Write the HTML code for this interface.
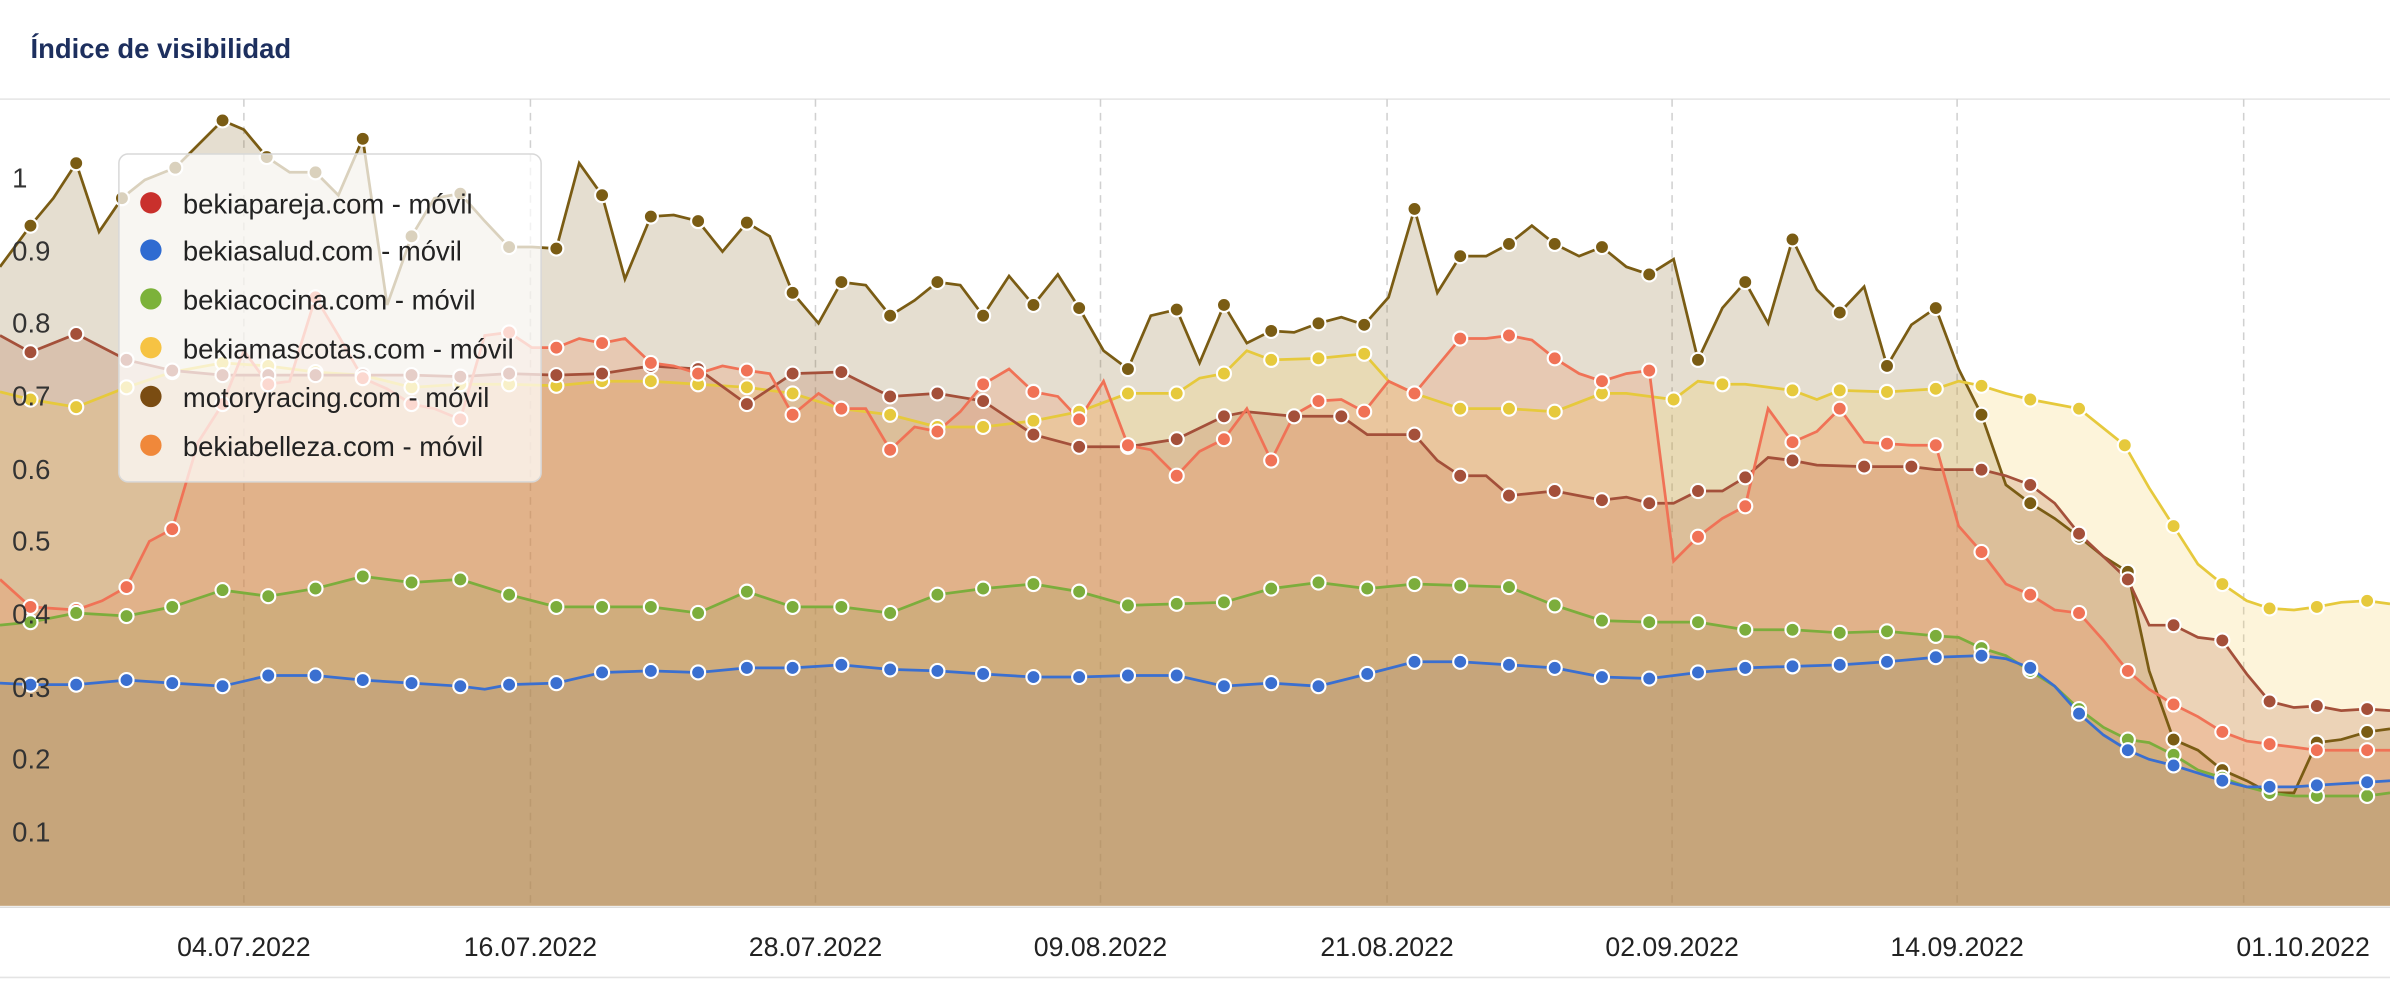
<!DOCTYPE html>
<html><head><meta charset="utf-8">
<style>
html,body{margin:0;padding:0;background:#fff;}
svg{display:block;}
text{font-family:"Liberation Sans",sans-serif;}
</style></head>
<body>
<svg id="c" width="2390" height="982" viewBox="0 0 1568 644" preserveAspectRatio="none" xmlns="http://www.w3.org/2000/svg">
<rect width="1568" height="644" fill="#fff"/>
<text x="20" y="38" font-size="18" font-weight="bold" fill="#1d2f5e">Índice de visibilidad</text>
<line x1="0" y1="65" x2="1568" y2="65" stroke="#e4e4e4" stroke-width="1"/>
<g id="grid" stroke="#d0d0d0" stroke-dasharray="5,4" stroke-width="1">
<line x1="160" y1="65" x2="160" y2="594"/><line x1="348" y1="65" x2="348" y2="594"/>
<line x1="535" y1="65" x2="535" y2="594"/><line x1="722" y1="65" x2="722" y2="594"/>
<line x1="910" y1="65" x2="910" y2="594"/><line x1="1097" y1="65" x2="1097" y2="594"/>
<line x1="1284" y1="65" x2="1284" y2="594"/><line x1="1472" y1="65" x2="1472" y2="594"/>
</g>
<g id="series"></g>
<g font-size="18" fill="#333">
<text x="8" y="123">1</text><text x="8" y="171">0.9</text><text x="8" y="218">0.8</text>
<text x="8" y="266">0.7</text><text x="8" y="314">0.6</text><text x="8" y="361">0.5</text>
<text x="8" y="409">0.4</text><text x="8" y="457">0.3</text><text x="8" y="504">0.2</text>
<text x="8" y="552">0.1</text>
</g>
<line x1="0" y1="595" x2="1568" y2="595" stroke="#ddd"/>
<g font-size="17.5" fill="#222" text-anchor="middle">
<text x="160" y="627">04.07.2022</text><text x="348" y="627">16.07.2022</text>
<text x="535" y="627">28.07.2022</text><text x="722" y="627">09.08.2022</text>
<text x="910" y="627">21.08.2022</text><text x="1097" y="627">02.09.2022</text>
<text x="1284" y="627">14.09.2022</text><text x="1511" y="627">01.10.2022</text>
</g>
<line x1="0" y1="641" x2="1568" y2="641" stroke="#e4e4e4"/>
<g>
<rect x="78" y="101" width="277" height="215" rx="6" fill="rgba(255,255,255,0.72)" stroke="#d8d8d8"/>
<g font-size="18" fill="#222">
<circle cx="99" cy="133" r="7" fill="#c9302c"/><text x="120" y="140">bekiapareja.com - móvil</text>
<circle cx="99" cy="164" r="7" fill="#2f6bd1"/><text x="120" y="171">bekiasalud.com - móvil</text>
<circle cx="99" cy="196" r="7" fill="#7cb23a"/><text x="120" y="203">bekiacocina.com - móvil</text>
<circle cx="99" cy="228" r="7" fill="#f6c343"/><text x="120" y="235">bekiamascotas.com - móvil</text>
<circle cx="99" cy="260" r="7" fill="#7a4c12"/><text x="120" y="267">motoryracing.com - móvil</text>
<circle cx="99" cy="292" r="7" fill="#f0883a"/><text x="120" y="299">bekiabelleza.com - móvil</text>
</g>
</g>
</svg>
<script>
const S=[
{c:"#7a5c14",f:"#8a6a2a",o:0.22,d:"0:175 20:148 35:130 50:107 65:152 80:130 95:118 115:110 146:79 160:85 175:103 190:113 207:113 222:128 238:91 254:200 270:155 285:130 302:127 318:145 334:162 349:162 365:163 380:107 395:128 410:183 427:142 442:141 458:145 474:165 490:146 505:155 520:192 537:212 552:185 568:187 584:207 600:197 615:185 630:187 645:207 662:181 678:200 694:180 708:202 724:230 740:242 755:207 772:203 787:238 803:200 818:225 834:217 849:218 865:212 880:208 895:213 911:195 928:137 943:192 958:168 975:168 990:160 1005:148 1020:160 1036:168 1051:162 1067:175 1082:180 1098:170 1114:236 1130:202 1145:185 1160:212 1176:157 1192:190 1207:205 1223:188 1238:240 1254:213 1270:202 1285:242 1300:272 1316:318 1332:330 1348:340 1364:352 1380:365 1396:375 1410:440 1426:485 1442:492 1458:505 1474:512 1489:520 1505:520 1520:487 1536:485 1553:480 1568:478"},
{c:"#e6c93c",f:"#f5cf55",o:0.22,d:"0:257 20:262 50:267 83:254 113:244 146:238 176:240 207:244 238:246 270:254 302:252 334:252 365:253 395:250 427:250 458:252 490:254 520:258 552:268 584:272 615:280 645:280 678:276 708:270 740:258 772:258 787:248 803:245 818:230 834:236 865:235 895:232 911:250 928:258 958:268 990:268 1020:270 1051:258 1067:258 1098:262 1114:250 1130:252 1145:252 1176:256 1192:262 1207:256 1238:257 1270:255 1285:250 1300:253 1316:258 1332:262 1364:268 1394:292 1410:320 1426:345 1442:370 1458:383 1474:394 1489:399 1505:400 1520:398 1536:395 1553:394 1568:396"},
{c:"#a4503a",f:"#b0603a",o:0.22,d:"0:220 20:231 50:219 83:236 113:243 146:246 176:246 207:246 238:246 270:246 302:247 334:245 365:246 395:245 427:240 458:242 490:265 520:245 552:244 584:260 615:258 645:263 678:285 708:293 740:293 772:288 803:273 818:270 849:273 865:273 880:273 897:285 928:285 943:302 958:312 975:312 990:325 1020:322 1051:328 1067:326 1082:330 1098:330 1114:322 1130:322 1145:313 1160:300 1176:302 1192:305 1223:306 1254:306 1270:308 1300:308 1316:312 1332:318 1348:330 1364:350 1380:365 1396:380 1410:410 1426:410 1442:418 1458:420 1474:442 1489:460 1505:464 1520:463 1536:466 1553:465 1568:466"},
{c:"#f07256",f:"#f08a5a",o:0.25,d:"0:380 20:398 50:400 67:394 83:385 98:355 113:347 130:290 146:265 160:230 176:252 190:250 207:195 222:220 238:248 254:255 270:265 285:268 302:275 318:220 334:218 349:228 365:228 380:222 395:225 410:222 427:238 442:240 458:245 474:240 490:243 505:245 520:272 537:258 552:268 568:268 584:295 600:280 615:283 630:270 645:252 662:242 678:257 694:260 708:275 724:250 740:292 755:295 772:312 787:296 803:288 818:268 834:302 849:272 865:263 880:262 895:270 911:250 928:258 943:240 958:222 975:222 990:220 1005:223 1020:235 1036:245 1051:250 1067:245 1082:243 1098:368 1114:352 1130:340 1145:332 1160:268 1176:290 1192:283 1207:268 1223:290 1238:291 1254:292 1270:292 1285:345 1300:362 1316:383 1332:390 1348:400 1364:402 1380:420 1396:440 1410:452 1426:462 1442:470 1458:480 1474:486 1489:488 1505:490 1520:492 1536:492 1553:492 1568:492"},
{c:"#7cad3c",f:"#8a9a4a",o:0.2,d:"0:410 20:408 50:402 83:404 113:398 146:387 176:391 207:386 238:378 270:382 302:380 334:390 365:398 395:398 427:398 458:402 490:388 520:398 552:398 584:402 615:390 645:386 678:383 708:388 740:397 772:396 803:395 834:386 865:382 897:386 928:383 958:384 990:385 1020:397 1051:407 1082:408 1114:408 1145:413 1176:413 1207:415 1238:414 1270:417 1285:418 1300:425 1316:430 1332:440 1348:450 1364:465 1380:477 1396:485 1410:487 1426:495 1442:505 1458:510 1474:516 1489:520 1505:522 1520:522 1536:522 1553:522 1568:520"},
{c:"#3a6fd0",f:"#8a7a70",o:0.15,d:"0:448 20:449 50:449 83:446 113:448 146:450 176:443 207:443 238:446 270:448 302:450 318:452 334:449 365:448 395:441 427:440 458:441 490:438 520:438 552:436 584:439 615:440 645:442 678:444 708:444 740:443 772:443 803:450 834:448 865:450 897:442 928:434 958:434 990:436 1020:438 1051:444 1082:445 1114:441 1145:438 1176:437 1207:436 1238:434 1270:431 1300:430 1316:432 1332:438 1348:450 1364:468 1380:482 1396:492 1410:498 1426:502 1442:507 1458:512 1474:516 1489:516 1505:516 1520:515 1536:514 1553:513 1568:512"}
];
const NS="http://www.w3.org/2000/svg",g=document.getElementById("series");
function el(t,a){const e=document.createElementNS(NS,t);for(const k in a)e.setAttribute(k,a[k]);return e;}
const fills=document.createElementNS(NS,"g"),lines=document.createElementNS(NS,"g"),dots=document.createElementNS(NS,"g");
g.appendChild(fills);g.appendChild(lines);g.appendChild(dots);
S.forEach(s=>{
 const p=s.d.split(" ").map(q=>q.split(":").map(Number));
 const line=p.map((q,i)=>(i?"L":"M")+q[0]+","+q[1]).join(" ");
 fills.appendChild(el("path",{d:line+" L1568,594 L0,594 Z",fill:s.f,"fill-opacity":s.o}));
 lines.appendChild(el("path",{d:line,fill:"none",stroke:s.c,"stroke-width":1.8}));
 let last=-100;
 p.forEach(q=>{if(q[0]-last>=28&&q[0]>10&&q[0]<1560){last=q[0];dots.appendChild(el("circle",{cx:q[0],cy:q[1],r:4.6,fill:s.c,stroke:"#fff","stroke-width":1.4}));}});
});
</script>
</body></html>
